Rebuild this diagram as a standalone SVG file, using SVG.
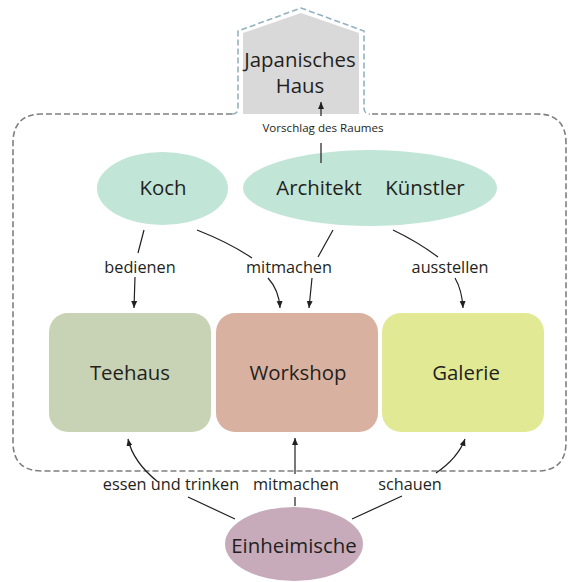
<svg xmlns="http://www.w3.org/2000/svg" width="574" height="582" viewBox="0 0 574 582">
<style>
text{font-family:"Open Sans","Noto Sans","Liberation Sans",sans-serif;fill:#231f20;text-anchor:middle}
.big{font-size:20.4px}
.lbl{font-size:16.3px}
.small{font-size:11.6px}
.conn{fill:none;stroke:#231f20;stroke-width:1.2;marker-end:url(#ah)}
.frame{fill:none;stroke:#7f7f7f;stroke-width:1.6;stroke-dasharray:6 3}
.house{fill:none;stroke:#93b2c1;stroke-width:1.6;stroke-dasharray:6 3}
</style>
<defs>
<marker id="ah" markerUnits="userSpaceOnUse" markerWidth="8" markerHeight="8" refX="7" refY="4" orient="auto">
<path d="M0,1 L7,4 L0,7 Z" fill="#231f20"/>
</marker>
</defs>
<rect width="574" height="582" fill="#ffffff"/>
<g id="frame">
<path class="frame" d="M232,114 H42 Q13,114 13,143 V442 Q13,471 42,471 H537 Q566,471 566,442 V143 Q566,114 537,114 H370"/>
</g>
<g id="japanisches-haus">
<polygon points="243,114 243,33 301,13 359,33 359,114" fill="#d9d9d9"/>
<path class="house" d="M232,114 Q238,114 238,108 V31 L301,8 L364,31 V108 Q364,114 370,114"/>
<text class="big" x="300" y="67">Japanisches</text>
<text class="big" x="300" y="93">Haus</text>
</g>
<g id="koch">
<ellipse cx="162.5" cy="188.5" rx="65.5" ry="36.5" fill="#c1e5d7"/>
<text class="big" x="163" y="195">Koch</text>
</g>
<g id="architekt-kuenstler">
<ellipse cx="370" cy="188" rx="127" ry="38" fill="#c1e5d7"/>
<text class="big" x="319" y="195">Architekt</text>
<text class="big" x="425" y="195">Künstler</text>
</g>
<g id="teehaus">
<rect x="49" y="313" width="162" height="119" rx="19" fill="#c8d2b4"/>
<text class="big" x="130" y="380">Teehaus</text>
</g>
<g id="workshop">
<rect x="216" y="313" width="162" height="119" rx="19" fill="#d9b1a0"/>
<text class="big" x="298" y="380">Workshop</text>
</g>
<g id="galerie">
<rect x="382" y="313" width="162" height="119" rx="19" fill="#e1e994"/>
<text class="big" x="466" y="380">Galerie</text>
</g>
<g id="einheimische">
<ellipse cx="294" cy="544" rx="69" ry="37" fill="#c7abba"/>
<text class="big" x="294" y="553">Einheimische</text>
</g>
<g id="connectors">
<path class="conn" d="M321,163 L321,143 M321,116 L321,102"/>
<path class="conn" d="M144,230 L138,253 M135,277 L134,308"/>
<path class="conn" d="M197,230 Q230,243 252,258 M268,278 Q279,290 280,308"/>
<path class="conn" d="M333,230 L318,257 M312,278 L309,308"/>
<path class="conn" d="M393,230 Q418,242 438,257 M455,278 Q462,290 463,308"/>
<path class="conn" d="M235,519 L188,497 M158,482 Q133,462 128,439"/>
<path class="conn" d="M295,506 L295,497 M295,474 L295,438"/>
<path class="conn" d="M352,519 L402,496 M436,473 Q458,458 465,439"/>
</g>
<g id="labels">
<text class="small" x="323" y="132">Vorschlag des Raumes</text>
<text class="lbl" x="140" y="273">bedienen</text>
<text class="lbl" x="289" y="273">mitmachen</text>
<text class="lbl" x="450" y="273">ausstellen</text>
<text class="lbl" x="171" y="490">essen und trinken</text>
<text class="lbl" x="296" y="490">mitmachen</text>
<text class="lbl" x="410" y="490">schauen</text>
</g>
</svg>
